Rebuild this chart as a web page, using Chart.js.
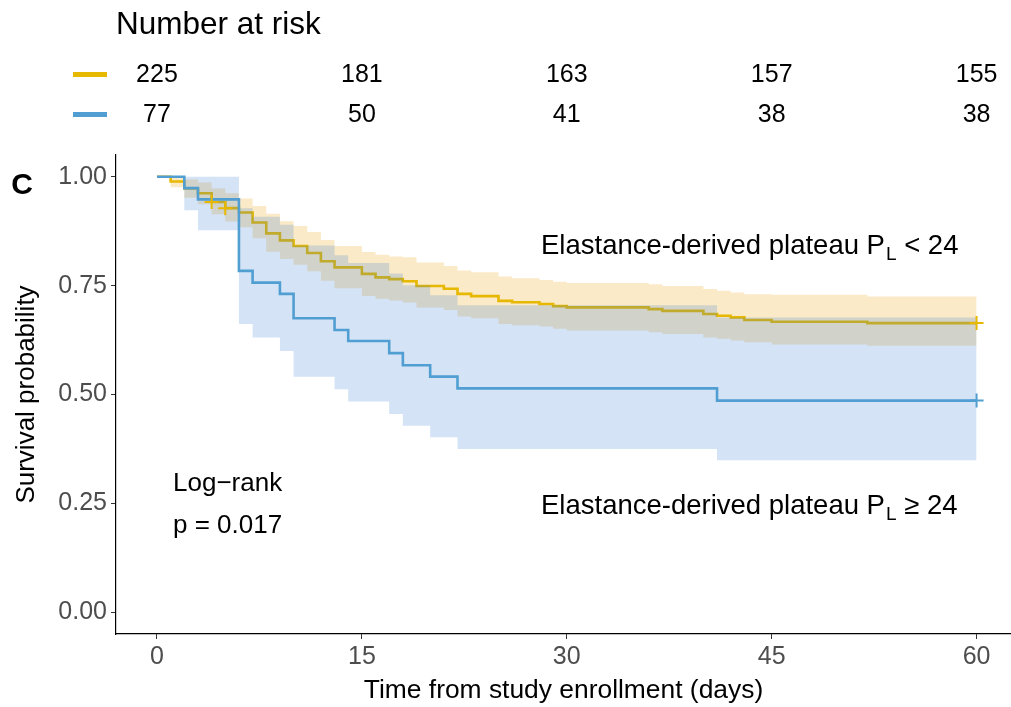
<!DOCTYPE html>
<html>
<head>
<meta charset="utf-8">
<script src="https://cdn.jsdelivr.net/npm/chart.js@4.4.1/dist/chart.umd.min.js"></script>
<style>
html,body{margin:0;padding:0;background:#fff;}
canvas{display:block;}
</style>
</head>
<body>
<canvas id="c" width="1011" height="707"></canvas>
<script>
// ---- data ----
const yellowTimes = [0,1,2,3,4,5,6,7,8,9,10,11,12,13,15,16,17,18,19,21,22,23,25,26,28,29,30,36,37,40,41,42,43,45,52,60];
const yellowSurv  = [1,0.989,0.973,0.962,0.942,0.928,0.918,0.895,0.870,0.854,0.841,0.825,0.806,0.792,0.777,0.769,0.765,0.760,0.749,0.743,0.731,0.726,0.715,0.712,0.708,0.703,0.700,0.696,0.692,0.685,0.681,0.677,0.671,0.667,0.664,0.664];
const yellowUpper = [1,1,0.994,0.987,0.973,0.962,0.950,0.933,0.915,0.898,0.887,0.873,0.855,0.841,0.827,0.821,0.817,0.815,0.803,0.795,0.785,0.781,0.771,0.767,0.763,0.759,0.756,0.753,0.749,0.742,0.738,0.734,0.730,0.729,0.725,0.725];
const yellowLower = [1,0.976,0.952,0.937,0.914,0.897,0.884,0.859,0.828,0.811,0.798,0.783,0.761,0.744,0.726,0.720,0.716,0.711,0.700,0.694,0.679,0.675,0.662,0.659,0.656,0.651,0.647,0.643,0.639,0.631,0.628,0.624,0.620,0.615,0.612,0.612];
const yellowCensorT = [4,5,60];
const yellowCensorS = [0.942,0.928,0.664];

const blueTimes = [0,2,3,6,7,9,10,13,14,17,18,20,22,41,60];
const blueSurv  = [1,0.974,0.948,0.784,0.757,0.731,0.675,0.648,0.623,0.595,0.567,0.541,0.514,0.486,0.486];
const blueUpper = [1,1,1,0.928,0.908,0.890,0.842,0.820,0.802,0.778,0.751,0.728,0.705,0.677,0.677];
const blueLower = [1,0.923,0.877,0.662,0.631,0.600,0.541,0.512,0.484,0.455,0.428,0.402,0.375,0.349,0.349];
const blueCensorT = [60];
const blueCensorS = [0.486];

const riskTimes  = [0,15,30,45,60];
const riskYellow = [225,181,163,157,155];
const riskBlue   = [77,50,41,38,38];

const xTicks = [0,15,30,45,60];
const yTicks = [0,0.25,0.5,0.75,1];

// ---- styles ----
const YELLOW = '#E7B800';
const BLUE = '#519FD2';
const YELLOW_FILL = 'rgba(240,170,30,0.25)';
const BLUE_FILL = 'rgba(50,122,207,0.21)';
const FONT = "'Liberation Sans', Arial, Helvetica, sans-serif";

const pts = (t, s) => t.map((v, i) => ({x: v, y: s[i]}));

const overlay = {
  id: 'overlay',
  afterDraw(chart) {
    const ctx = chart.ctx;
    const xs = chart.scales.x;
    ctx.save();
    ctx.fillStyle = '#000';
    ctx.textBaseline = 'middle';
    // panel label
    ctx.font = "bold 30px " + FONT;
    ctx.textAlign = 'center';
    ctx.fillText('C', 22, 186);
    // risk table
    ctx.textAlign = 'left';
    ctx.font = "31.5px " + FONT;
    ctx.fillText('Number at risk', 116, 25);
    ctx.fillStyle = YELLOW;
    ctx.fillRect(73, 72, 34, 5);
    ctx.fillStyle = BLUE;
    ctx.fillRect(73, 112, 34, 5);
    ctx.fillStyle = '#000';
    ctx.font = "25px " + FONT;
    ctx.textAlign = 'center';
    riskTimes.forEach((t, i) => {
      const px = xs.getPixelForValue(t);
      ctx.fillText(String(riskYellow[i]), px, 75);
      ctx.fillText(String(riskBlue[i]), px, 115);
    });
    // log-rank
    ctx.textAlign = 'left';
    ctx.font = "26px " + FONT;
    ctx.fillText('Log\u2212rank', 173, 484);
    ctx.fillText('p = 0.017', 173, 526);
    // group annotations with subscript
    const drawLabel = (y, sym) => {
      let x = 541;
      ctx.font = "27.5px " + FONT;
      const a = 'Elastance-derived plateau P';
      ctx.fillText(a, x, y);
      x += ctx.measureText(a).width;
      ctx.font = "19px " + FONT;
      ctx.fillText('L', x + 1, y + 9);
      x += ctx.measureText('L').width + 1;
      ctx.font = "27.5px " + FONT;
      ctx.fillText(' ' + sym + ' 24', x, y);
    };
    drawLabel(246, '<');
    drawLabel(506, '\u2265');
    ctx.restore();
  }
};

new Chart(document.getElementById('c'), {
  type: 'line',
  data: {
    datasets: [
      {label: 'blueCensor', data: pts(blueCensorT, blueCensorS), showLine: false, pointStyle: 'cross', pointRadius: 7, pointBorderWidth: 2, borderColor: BLUE, backgroundColor: BLUE, order: -2},
      {label: 'yellowCensor', data: pts(yellowCensorT, yellowCensorS), showLine: false, pointStyle: 'cross', pointRadius: 7, pointBorderWidth: 2, borderColor: YELLOW, backgroundColor: YELLOW, order: -1},
      {label: 'blue', data: pts(blueTimes, blueSurv), stepped: true, borderColor: BLUE, borderWidth: 2.6, pointRadius: 0, fill: false, order: 0},
      {label: 'blueUpper', data: pts(blueTimes, blueUpper), stepped: true, borderWidth: 0, pointRadius: 0, fill: '+1', backgroundColor: BLUE_FILL, borderColor: 'rgba(0,0,0,0)', order: 1},
      {label: 'blueLower', data: pts(blueTimes, blueLower), stepped: true, borderWidth: 0, pointRadius: 0, fill: false, borderColor: 'rgba(0,0,0,0)', order: 2},
      {label: 'yellow', data: pts(yellowTimes, yellowSurv), stepped: true, borderColor: YELLOW, borderWidth: 2.6, pointRadius: 0, fill: false, order: 3},
      {label: 'yellowUpper', data: pts(yellowTimes, yellowUpper), stepped: true, borderWidth: 0, pointRadius: 0, fill: '+1', backgroundColor: YELLOW_FILL, borderColor: 'rgba(0,0,0,0)', order: 4},
      {label: 'yellowLower', data: pts(yellowTimes, yellowLower), stepped: true, borderWidth: 0, pointRadius: 0, fill: false, borderColor: 'rgba(0,0,0,0)', order: 5}
    ]
  },
  options: {
    responsive: false,
    animation: false,
    events: [],
    layout: {autoPadding: false, padding: {left: 0, right: 0, top: 155, bottom: 0}},
    plugins: {legend: {display: false}, tooltip: {enabled: false}},
    scales: {
      x: {
        type: 'linear', min: -3, max: 62.52,
        afterBuildTicks: s => { s.ticks = xTicks.map(v => ({value: v})); },
        afterFit: s => { s.height = 73; s.paddingLeft = 0; s.paddingRight = 0; },
        grid: {drawOnChartArea: false, drawTicks: true, tickLength: 5, color: '#333333', tickWidth: 1},
        border: {display: true, color: '#000', width: 1.2},
        ticks: {color: '#4D4D4D', font: {family: FONT, size: 25}, padding: 3, maxRotation: 0, autoSkip: false, callback: v => String(v)},
        title: {display: true, text: 'Time from study enrollment (days)', color: '#000', font: {family: FONT, size: 26.4}, padding: {top: 0, bottom: 0}}
      },
      y: {
        type: 'linear', min: -0.05, max: 1.05,
        afterBuildTicks: s => { s.ticks = yTicks.map(v => ({value: v})); },
        afterFit: s => { s.width = 116; s.paddingTop = 0; s.paddingBottom = 0; },
        grid: {drawOnChartArea: false, drawTicks: true, tickLength: 5, color: '#333333', tickWidth: 1},
        border: {display: true, color: '#000', width: 1.2},
        ticks: {color: '#4D4D4D', font: {family: FONT, size: 25}, padding: 4, autoSkip: false, callback: v => Number(v).toFixed(2)},
        title: {display: true, text: 'Survival probability', color: '#000', font: {family: FONT, size: 26}, padding: {top: 11, bottom: 0}}
      }
    }
  },
  plugins: [overlay]
});
</script>
</body>
</html>
